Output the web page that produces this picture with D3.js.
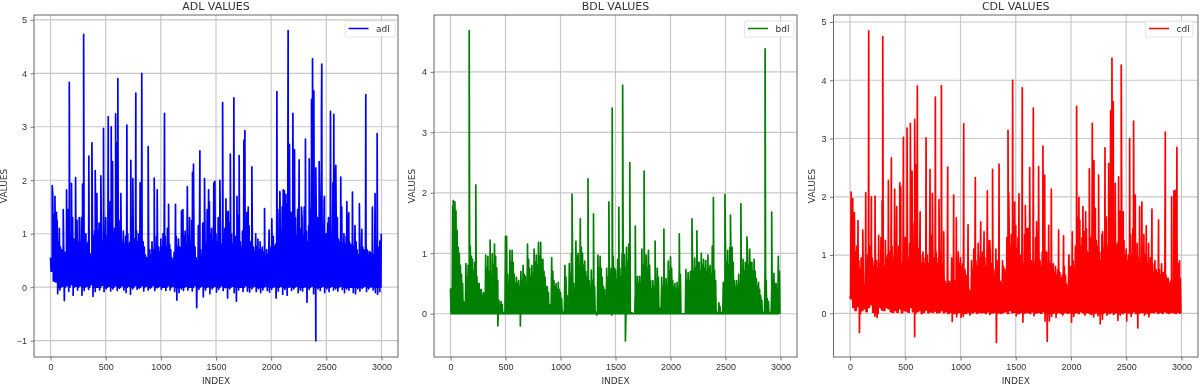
<!DOCTYPE html>
<html>
<head>
<meta charset="utf-8">
<script src="https://cdn.jsdelivr.net/npm/d3@7"></script>
<style>
  html, body { margin: 0; padding: 0; background: #fff; }
  svg { display: block; filter: blur(0.5px); font-family: "DejaVu Sans", sans-serif; }
</style>
</head>
<body>
<svg id="chart" width="1200" height="385"></svg>
<script>
// x ticks are shared, y ticks differ per panel
const xTicks = [0, 500, 1000, 1500, 2000, 2500, 3000];
const adlTicks = [-1, 0, 1, 2, 3, 4, 5];
const bdlTicks = [0, 1, 2, 3, 4];
const cdlTicks = [0, 1, 2, 3, 4, 5];

// ---- ADL: tops at index 0,20,40..., mids at 10,30,50..., bottoms in between, then the tall spikes
const adlHighs = [
  .55,1.75,1.6,1.25,1.1,.7,.62,.58,1.45,1.0,
  1.3,.9,1.25,.95,1.3,1.15,1.0,.85,.62,1.2,
  1.05,1.75,1.2,1.1,1.55,1.3,1.0,1.6,1.2,1.1,
  2.7,1.25,1.1,1.05,.95,1.0,.85,1.3,.9,1.05,
  1.0,1.2,.85,.6,.55,.7,.85,.8,.95,.75,
  .9,1.0,.95,1.1,.8,.55,.65,.95,.9,.7,
  1.45,1.05,1.7,1.3,1.25,.9,.55,1.15,.7,1.2,
  1.0,1.45,1.6,1.1,1.95,1.0,1.3,1.0,.85,1.1,
  1.4,1.2,1.0,1.1,.95,1.35,.85,1.05,.9,1.4,
  1.15,.8,.75,1.0,.9,.85,.75,.55,.7,.9,
  .75,.95,.8,1.45,1.75,1.5,1.8,1.55,1.1,1.4,
  1.55,1.3,1.45,1.1,1.3,1.5,1.05,1.15,1.45,2.0,
  1.65,1.3,1.65,2.0,1.6,1.0,1.3,1.45,1.95,2.2,
  1.3,.85,1.0,1.0,.95,1.2,.8,.9,1.15,.7,
  .65,.95,.7,.85,.6,.65,.7,.9,.95,.7
];
const adlMids = [
  .3,1.35,1.15,.85,.75,.7,.65,.7,.95,.85,
  .9,.8,.85,.85,.9,.85,.8,.75,.6,.95,
  .9,1.05,.95,.85,1.0,.95,.9,1.05,.95,.9,
  1.25,.95,.85,.8,.75,.8,.75,.9,.8,.85,
  .85,.85,.75,.55,.5,.6,.7,.7,.75,.65,
  .75,.8,.75,.8,.7,.5,.6,.75,.75,.65,
  .95,.8,.95,.85,.85,.75,.5,.8,.6,.85,
  .8,.95,1.0,.85,1.05,.85,.9,.8,.75,.85,
  .95,.9,.8,.85,.8,.95,.75,.85,.75,.95,
  .85,.7,.65,.75,.7,.7,.65,.5,.6,.7,
  .65,.75,.7,.95,1.05,1.0,1.1,1.0,.85,.95,
  1.0,.95,.95,.85,.95,1.0,.85,.9,1.0,1.2,
  1.05,.95,1.05,1.15,1.0,.8,.9,1.0,1.15,1.2,
  .9,.75,.8,.8,.75,.85,.7,.75,.85,.6,
  .6,.75,.6,.7,.55,.6,.6,.7,.75,.6
];
const adlLows = [
  .3,.12,.1,-.12,-.05,.02,-.25,.03,-.08,.05,
  -.15,.02,-.05,.03,-.15,-.06,.02,-.04,.05,-.17,
  -.08,0,-.05,.04,-.08,-.03,.02,-.07,-.03,.03,
  -.06,-.02,.03,-.05,-.1,.02,-.13,-.03,.03,-.04,
  -.02,.03,-.07,.02,-.05,-.02,.03,-.06,-.01,.02,
  -.04,0,-.06,.03,-.05,.02,-.08,-.24,-.1,-.03,
  -.06,.02,-.05,0,-.07,.03,-.38,-.04,.02,-.18,
  -.05,.01,-.12,-.03,.02,-.09,-.04,.03,-.06,-.01,
  -.2,-.03,.02,-.1,-.26,-.05,0,-.08,.03,-.07,
  -.09,-.03,.02,-.08,-.03,-.1,-.05,.02,-.06,-.09,
  -.04,.01,-.2,-.07,.02,-.13,-.04,-.15,.01,-.06,
  -.03,.02,-.1,-.05,-.07,.01,-.28,-.04,.02,-.12,
  -1.0,-.03,-.06,.02,-.1,-.03,-.08,.02,-.05,-.03,
  -.07,.02,-.04,-.1,-.03,-.05,0,-.1,-.12,-.03,
  -.07,-.02,.02,-.08,-.03,.01,-.05,-.1,-.13,-.08
];
const adlPeakIndex = [15,40,54,115,145,170,190,227,260,290,300,347,375,405,420,456,480,523,550,562,590,610,637,692,728,746,773,812,827,885,940,967,1033,1070,1133,1187,1240,1287,1296,1354,1396,1433,1490,1535,1560,1590,1611,1630,1662,1690,1710,1753,1762,1792,1825,1940,1982,2006,2052,2079,2109,2133,2154,2166,2197,2212,2254,2275,2311,2345,2366,2375,2387,2405,2435,2456,2459,2483,2514,2538,2568,2586,2631,2640,2686,2704,2737,2800,2822,2858,2888,2918,2942,2961,2985,2998];
const adlPeakValues = [1.9,1.7,1.4,1.45,1.82,3.83,1.94,2.05,1.3,1.93,4.73,2.45,2.7,2.18,1.75,2.08,2.97,3.19,3.0,2.35,3.24,3.9,1.75,3.03,2.37,2.03,3.63,1.95,4.0,2.63,2.04,1.82,3.25,1.55,1.55,1.43,1.88,2.15,2.3,2.55,2.03,1.82,1.98,2.0,3.45,1.65,1.42,2.49,3.54,1.7,2.46,2.75,2.93,1.5,2.25,1.47,1.07,1.28,3.66,1.79,1.82,1.73,4.8,2.67,3.25,2.57,2.38,1.5,2.77,2.4,3.51,4.27,3.67,2.23,2.35,3.23,4.17,1.7,1.2,3.29,3.23,2.28,2.06,1.5,1.6,1.39,1.78,1.56,1.08,3.6,.67,1.5,1.75,2.87,.86,1.0];

// ---- BDL: bottoms sit on zero, dips are listed with the spikes
const bdlHighs = [
  .42,1.78,1.85,1.38,1.0,.65,.2,.83,.8,1.12,
  .9,.85,.62,.5,.4,.35,.97,.95,.6,.99,
  1.15,.76,.22,.2,.02,1.28,.65,1.05,1.05,.65,
  .6,.55,.7,.8,.62,1.15,.75,.8,1.07,.97,
  1.18,1.18,.9,.6,.45,.15,.93,.55,.5,.52,
  .35,.03,.8,.3,.83,1.0,.5,1.2,1.0,1.57,
  1.0,.87,.6,.55,.72,.6,.03,.97,.95,.6,
  .4,.75,.7,.75,.95,.72,.9,.75,1.0,.98,
  1.1,1.15,.02,0,.35,.62,.62,1.07,.8,.97,
  1.05,.55,.55,.35,.75,.1,.6,.55,.58,.87,
  .94,.55,.5,.52,.82,0,0,.73,.68,.7,
  .9,.92,1.05,.85,1.0,.9,.88,.97,.8,1.12,
  .72,.02,.18,.02,.52,1.05,1.05,1.1,1.1,.55,
  .55,.65,.92,.9,.85,1.0,1.07,.85,.9,.58,
  .52,.3,.03,.8,.25,.02,.38,.67,.5,.9
];
const bdlMids = [
  .4,1.5,1.7,1.1,.8,.5,.15,.6,.65,.95,
  .7,.6,.5,.4,.3,.3,.75,.7,.45,.8,
  .95,.55,.15,.15,.02,.9,.5,.85,.85,.5,
  .5,.45,.55,.65,.5,.9,.6,.65,.85,.8,
  .95,.9,.7,.45,.35,.1,.7,.45,.4,.4,
  .25,.03,.6,.2,.65,.8,.4,.95,.8,1.1,
  .8,.7,.5,.45,.55,.45,.02,.75,.75,.45,
  .3,.6,.55,.6,.75,.55,.7,.6,.8,.75,
  .85,.9,.02,0,.25,.5,.5,.8,.65,.75,
  .8,.4,.45,.25,.6,.05,.45,.45,.45,.7,
  .75,.45,.4,.4,.65,0,0,.55,.55,.55,
  .7,.75,.85,.7,.8,.75,.7,.75,.65,.85,
  .55,.02,.12,.02,.4,.85,.8,.85,.85,.45,
  .45,.5,.75,.7,.7,.8,.85,.7,.7,.45,
  .4,.22,.02,.55,.2,.02,.3,.5,.4,.7
];
const bdlPeakIndex = [25,170,230,360,430,510,635,1105,1250,1300,1330,1440,1465,1470,1530,1565,1590,1630,1680,1760,1860,1940,2080,2195,2240,2390,2495,2545,2640,2695,2860,2920,2980];
const bdlPeakValues = [1.87,4.68,2.13,1.22,-.2,1.28,-.2,1.98,2.23,1.65,-.02,1.85,-.02,3.4,1.76,3.78,-.45,2.5,1.45,2.36,1.2,1.4,1.32,1.57,1.37,1.92,1.97,1.63,1.82,1.27,4.38,1.68,.95];

// ---- CDL
const cdlHighs = [
  .3,1.85,1.45,1.15,.9,.95,.55,1.05,1.0,1.15,
  .95,.9,.9,1.05,1.3,.9,1.25,1.0,1.05,1.15,
  .95,1.2,1.15,1.0,1.25,1.3,1.1,1.2,1.35,1.55,
  2.55,1.1,1.0,1.05,.95,1.0,.85,1.35,.95,1.05,
  .95,1.0,.85,.55,.6,.55,.95,.6,.65,1.05,
  .95,.85,.75,.65,.4,.9,1.1,.9,1.2,1.0,
  1.05,.95,1.0,1.25,.85,.75,1.1,.65,.55,.9,
  .75,1.3,1.55,1.35,1.6,1.5,1.3,1.0,1.05,1.35,
  1.45,1.1,.9,1.0,1.3,1.4,.9,1.05,1.4,1.05,
  1.0,.85,.85,.8,.75,.7,.65,.8,.5,.95,
  .8,.9,1.15,1.65,1.6,1.3,1.4,1.45,1.0,1.3,
  1.85,1.8,1.15,1.05,1.35,1.1,1.65,1.3,1.85,2.2,
  1.55,1.2,1.75,1.45,1.25,1.1,1.0,1.35,1.45,1.1,
  1.2,1.0,1.15,1.35,1.05,.8,.95,.85,.9,.7,
  .75,.85,.7,.65,.6,.55,.5,.65,1.2,.7
];
const cdlMids = [
  .25,1.25,1.05,.85,.75,.75,.5,.8,.8,.85,
  .8,.75,.75,.85,.95,.8,.95,.85,.85,.95,
  .85,1.0,.95,.85,1.0,1.05,.95,1.0,1.1,1.15,
  1.35,.95,.85,.85,.8,.85,.75,1.0,.85,.85,
  .8,.85,.75,.5,.55,.5,.8,.55,.6,.85,
  .8,.75,.65,.6,.38,.75,.85,.8,.95,.85,
  .85,.8,.85,.95,.75,.65,.9,.6,.5,.8,
  .7,1.0,1.15,1.05,1.15,1.1,1.0,.85,.85,1.0,
  1.05,.9,.8,.85,1.0,1.05,.8,.85,1.05,.85,
  .85,.75,.7,.65,.65,.6,.6,.65,.45,.8,
  .65,.8,.9,1.15,1.15,1.0,1.05,1.05,.85,1.0,
  1.25,1.25,.95,.9,1.05,.9,1.15,1.0,1.25,1.45,
  1.15,.95,1.2,1.05,1.0,.9,.85,1.0,1.05,.9,
  .95,.85,.9,1.0,.85,.7,.8,.7,.75,.6,
  .65,.7,.6,.6,.5,.45,.45,.6,.85,.6
];
const cdlLows = [
  .25,.1,.05,.12,-.33,.05,.08,.03,.1,.15,
  .02,-.05,-.07,.1,.06,.05,.1,.08,.03,.02,
  .05,.02,.08,.01,.05,.04,.02,.1,.03,-.4,
  .03,.05,0,.02,.06,.01,.03,.02,.04,.01,
  .02,.05,.01,.03,0,.02,-.14,0,-.06,.02,
  -.07,-.05,0,.02,-.03,.01,.03,0,.02,.01,
  .02,0,.03,-.02,.01,.02,-.5,.01,0,.02,
  .03,0,.05,.01,.02,-.04,0,.02,-.15,.01,
  .02,0,.03,-.04,.01,.02,0,.03,-.13,-.48,
  -.13,-.05,.01,-.07,.02,0,-.03,.02,0,.01,
  -.15,-.05,.02,0,.03,.01,-.03,.02,0,-.02,
  -.06,.01,-.04,-.18,-.1,.02,-.03,0,.02,-.02,
  .01,-.12,-.03,0,.02,-.13,.01,-.05,.03,0,
  -.25,.01,.02,-.03,0,-.06,.02,.01,.03,0,
  .02,0,.03,.01,0,.02,.01,0,.02,0
];
const cdlPeakIndex = [9,24,39,72,115,142,169,193,226,259,290,296,347,374,404,422,450,459,483,516,546,561,585,609,634,688,724,745,772,805,827,848,884,938,962,1029,1068,1134,1183,1213,1243,1265,1290,1349,1430,1436,1472,1490,1529,1559,1587,1611,1626,1659,1689,1707,1746,1762,1798,1822,1888,1933,1982,2012,2051,2072,2108,2133,2166,2193,2208,2250,2286,2308,2341,2359,2371,2383,2401,2431,2455,2473,2531,2567,2582,2621,2642,2682,2703,2733,2793,2854,2911,2932,2947,2959,2983];
const cdlPeakValues = [2.08,1.97,1.73,1.59,1.43,2.07,4.85,2.0,2.01,1.34,1.93,4.75,2.28,2.67,2.13,1.83,2.24,2.17,3.02,3.18,3.26,2.44,3.33,3.9,1.74,3.01,2.47,2.06,3.71,1.95,3.91,1.4,2.51,2.03,1.64,3.25,1.52,2.33,1.57,1.4,2.1,1.25,2.47,2.56,3.14,2.08,4.0,1.91,2.05,3.87,1.85,1.46,2.5,3.52,1.57,2.52,2.87,2.37,1.51,2.13,1.43,1.33,1.0,1.4,3.55,1.99,1.83,1.74,2.48,3.26,2.62,2.37,1.4,2.84,2.57,3.48,4.38,3.63,2.23,2.34,4.26,1.74,3.0,3.3,2.03,1.83,1.91,1.5,1.2,1.79,1.6,3.11,2.0,2.1,2.11,2.85,.9];

const svg = d3.select('#chart');
const plotTop = 15;
const plotBottom = 357;

// the line saws top -> bottom -> mid -> bottom -> top, spikes get merged in by index
// only the first bottom keeps a dip, so a dip stays one stroke wide
function buildPoints(highs, mids, lows, peakIndex, peakValues) {
  const pts = [];
  highs.forEach((v, i) => {
    const low = lows ? lows[i] : 0;
    pts.push([i * 20, v]);
    pts.push([i * 20 + 5, low]);
    pts.push([i * 20 + 10, mids[i]]);
    pts.push([i * 20 + 15, Math.max(low, 0)]);
  });
  peakIndex.forEach((idx, i) => pts.push([idx, peakValues[i]]));
  return pts.sort((a, b) => a[0] - b[0]);
}

function drawPanel(p) {
  const x = d3.scaleLinear().domain([-150, 3150]).range([p.left, p.right]);
  const y = d3.scaleLinear().domain(p.yDomain).range([plotBottom, plotTop]);
  const g = svg.append('g');
  const minus = (d) => String(d).replace('-', '\u2212');

  // grid first so the line covers it
  const xAxis = g.append('g')
    .attr('transform', `translate(0,${plotBottom})`)
    .call(d3.axisBottom(x).tickValues(xTicks).tickFormat(d3.format('d')).tickSize(3.5).tickPadding(3.5));
  const yAxis = g.append('g')
    .attr('transform', `translate(${p.left},0)`)
    .call(d3.axisLeft(y).tickValues(p.yTicks).tickFormat(minus).tickSize(3.5).tickPadding(3.5));
  g.append('g')
    .selectAll('line')
    .data(xTicks)
    .join('line')
    .attr('x1', (d) => x(d))
    .attr('x2', (d) => x(d))
    .attr('y1', plotTop)
    .attr('y2', plotBottom)
    .style('stroke', '#c8c8c8')
    .style('stroke-width', 1.2);
  g.append('g')
    .selectAll('line')
    .data(p.yTicks)
    .join('line')
    .attr('x1', p.left)
    .attr('x2', p.right)
    .attr('y1', (d) => y(d))
    .attr('y2', (d) => y(d))
    .style('stroke', '#c8c8c8')
    .style('stroke-width', 1.2);

  [xAxis, yAxis].forEach((a) => {
    a.select('.domain').remove();
    a.selectAll('line').style('stroke', '#555').style('stroke-width', 0.8);
    a.selectAll('text').style('font-size', '9px').style('fill', '#333');
    a.style('font-family', null);
  });

  const line = d3.line().x((d) => x(d[0])).y((d) => y(d[1]));
  g.append('path')
    .datum(p.points)
    .attr('d', line)
    .style('fill', 'none')
    .style('stroke', p.color)
    .style('stroke-width', 1.7)
    .style('stroke-linejoin', 'round');

  g.append('rect')
    .attr('x', p.left)
    .attr('y', plotTop)
    .attr('width', p.right - p.left)
    .attr('height', plotBottom - plotTop)
    .style('fill', 'none')
    .style('stroke', '#666')
    .style('stroke-width', 1);

  g.append('text')
    .attr('x', (p.left + p.right) / 2)
    .attr('y', 10)
    .attr('text-anchor', 'middle')
    .style('font-size', '11px')
    .style('fill', '#333')
    .text(p.title);
  g.append('text')
    .attr('x', (p.left + p.right) / 2)
    .attr('y', 384)
    .attr('text-anchor', 'middle')
    .style('font-size', '9px')
    .style('fill', '#333')
    .text('INDEX');
  g.append('text')
    .attr('transform', `translate(${p.labelX},186) rotate(-90)`)
    .attr('text-anchor', 'middle')
    .style('font-size', '9px')
    .style('fill', '#333')
    .text('VALUES');

  // legend box, top right
  const lg = g.append('g').attr('transform', `translate(${p.legendX},21)`);
  lg.append('rect')
    .attr('width', p.legendW)
    .attr('height', 16)
    .attr('rx', 1.5)
    .style('fill', '#fff')
    .style('fill-opacity', 0.8)
    .style('stroke', '#ddd')
    .style('stroke-width', 0.8);
  lg.append('line')
    .attr('x1', 3.5)
    .attr('x2', 23.5)
    .attr('y1', 7.5)
    .attr('y2', 7.5)
    .style('stroke', p.color)
    .style('stroke-width', 1.5);
  lg.append('text')
    .attr('x', 31)
    .attr('y', 10.5)
    .style('font-size', '9px')
    .style('fill', '#333')
    .text(p.name);
}

drawPanel({
  title: 'ADL VALUES', name: 'adl', color: 'blue',
  left: 34, right: 398, labelX: 7, legendX: 345, legendW: 50,
  yDomain: [-1.305, 5.09], yTicks: adlTicks,
  points: buildPoints(adlHighs, adlMids, adlLows, adlPeakIndex, adlPeakValues)
});
drawPanel({
  title: 'BDL VALUES', name: 'bdl', color: 'green',
  left: 434, right: 797, labelX: 415, legendX: 744.5, legendW: 49.5,
  yDomain: [-0.715, 4.94], yTicks: bdlTicks,
  points: buildPoints(bdlHighs, bdlMids, null, bdlPeakIndex, bdlPeakValues)
});
drawPanel({
  title: 'CDL VALUES', name: 'cdl', color: 'red',
  left: 833.5, right: 1198, labelX: 815, legendX: 1145.5, legendW: 47.5,
  yDomain: [-0.75, 5.12], yTicks: cdlTicks,
  points: buildPoints(cdlHighs, cdlMids, cdlLows, cdlPeakIndex, cdlPeakValues)
});
</script>
</body>
</html>
